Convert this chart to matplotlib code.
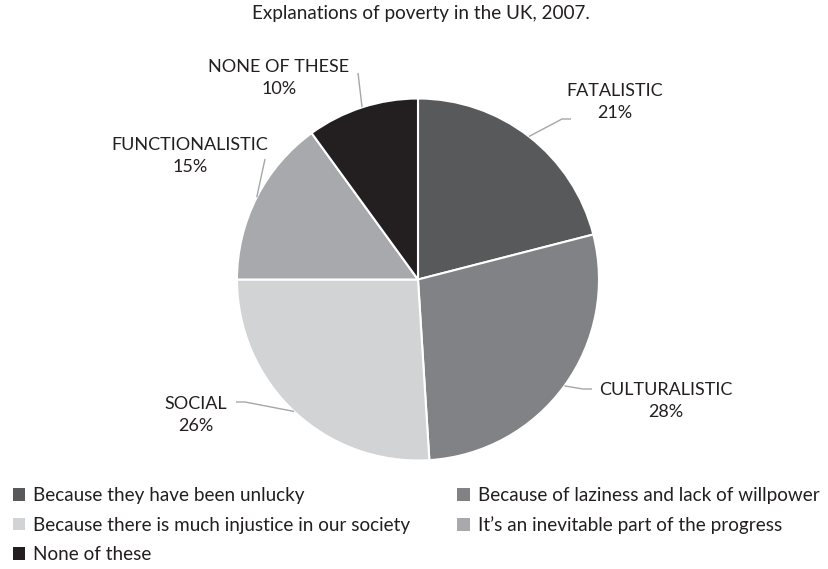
import numpy as np
import matplotlib
matplotlib.use("Agg")
import matplotlib.pyplot as plt

W, H = 829, 569

# explanation groups, clockwise from 12 o'clock
groups = ['FATALISTIC', 'CULTURALISTIC', 'SOCIAL', 'FUNCTIONALISTIC', 'NONE OF THESE']
shares = [21, 28, 26, 15, 10]
answers = ['Because they have been unlucky',
           'Because of laziness and lack of willpower',
           'Because there is much injustice in our society',
           "It\u2019s an inevitable part of the progress",
           'None of these']
colors = ['#58595b', '#808285', '#d1d3d4', '#a7a9ac', '#231f20']

title = 'Explanations of poverty in the UK, 2007.'

# label centres and leader-line elbows (pixel coords, y down)
label_pos = [(615, 102), (666, 401), (196, 415), (190, 156), (279, 78)]
leader_pts = [[(562, 119), (571, 119)],
              [(583, 389), (592, 389)],
              [(245, 402), (236, 402)],
              [(265, 159)],
              [(358, 73)]]

cx, cy, r = 418, 279.5, 181

plt.rcParams['font.family'] = ['Lato', 'DejaVu Sans']
text_color = '#231f20'

fig = plt.figure(figsize=(W / 100, H / 100), dpi=100)
ax = fig.add_axes([0, 0, 1, 1])

wedges, _ = ax.pie(shares, colors=colors, startangle=90, counterclock=False,
                   center=(cx, H - cy), radius=r,
                   wedgeprops=dict(edgecolor='white', linewidth=1.5))
ax.set_xlim(0, W)
ax.set_ylim(0, H)
ax.axis('off')

for w, name, v, (lx, ly), pts in zip(wedges, groups, shares, label_pos, leader_pts):
    mid = np.deg2rad((w.theta1 + w.theta2) / 2)
    ex, ey = cx + r * np.cos(mid), (H - cy) + r * np.sin(mid)
    xs = [ex] + [p[0] for p in pts]
    ys = [ey] + [H - p[1] for p in pts]
    ax.plot(xs, ys, color='#a6a6a6', lw=1.0, solid_capstyle='butt')
    ax.text(lx, H - ly, f'{name}\n{v}%', ha='center', va='center',
            fontsize=13, color=text_color, linespacing=1.45)

ax.text(421, H - 13, title, ha='center', va='center', fontsize=13.6, color=text_color)

order = [0, 2, 4, 1, 3]
leg = ax.legend([wedges[i] for i in order], [answers[i] for i in order],
                ncol=2, loc='upper left', bbox_to_anchor=(5 / W, 1 - 479.5 / H),
                frameon=False, fontsize=13.6, handlelength=0.64, handleheight=0.64,
                handletextpad=0.45, labelspacing=0.66, columnspacing=2.5,
                borderaxespad=0)
for t in leg.get_texts():
    t.set_color(text_color)
for h in leg.legend_handles:
    h.set_edgecolor('none')

fig.savefig('out.png', dpi=100)
